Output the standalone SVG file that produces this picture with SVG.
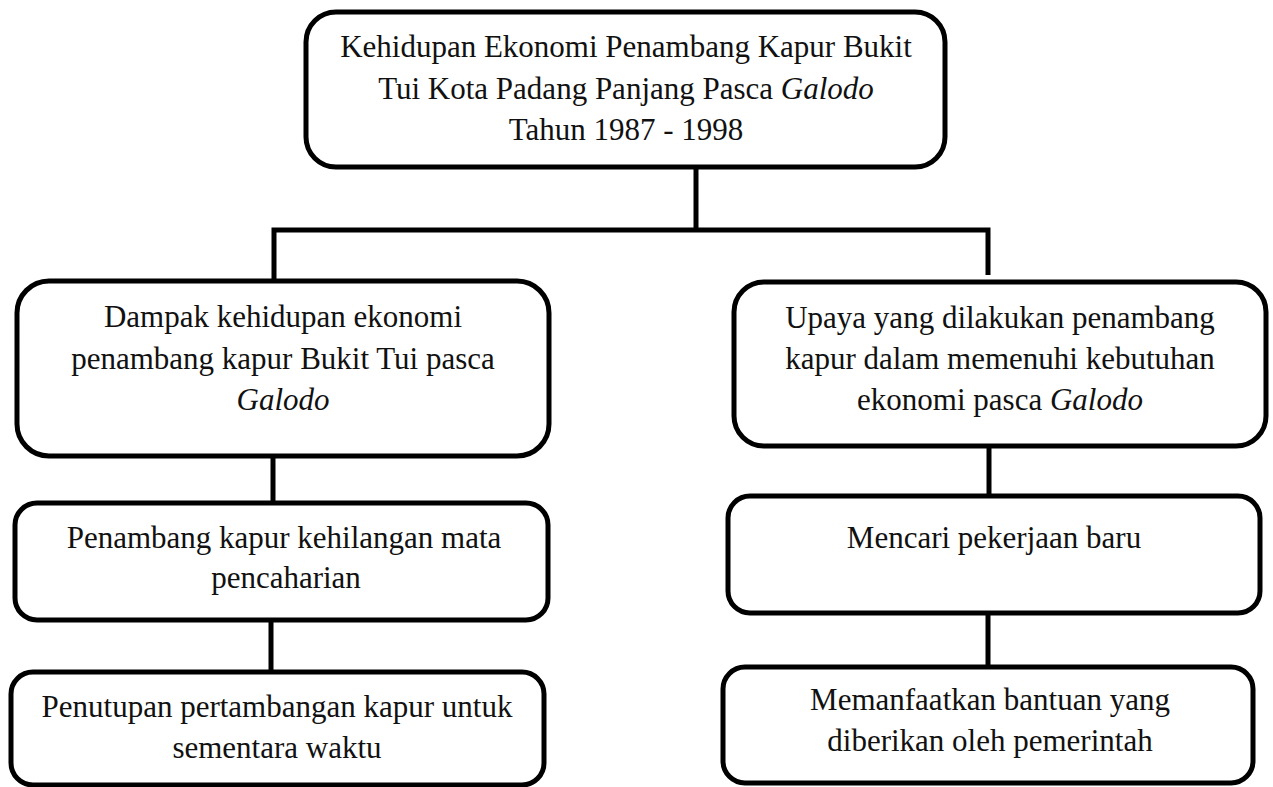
<svg xmlns="http://www.w3.org/2000/svg" width="1273" height="787" viewBox="0 0 1273 787">
<style>
.box{fill:#fff;stroke:#000;stroke-width:5}
.t{font-family:"Liberation Serif","Times New Roman",serif;font-size:31px;fill:#111;text-anchor:middle}
.i{font-style:italic}
.c{stroke:#000;stroke-width:5;fill:none;stroke-linecap:butt}
</style>
<rect width="1273" height="787" fill="#fff"/>
<g id="connectors">
<line class="c" x1="696" y1="167" x2="696" y2="228"/>
<polyline class="c" points="274,281 274,230 988,230 988,275"/>
<line class="c" x1="273" y1="456" x2="273" y2="503"/>
<line class="c" x1="271" y1="620" x2="271" y2="672"/>
<line class="c" x1="989" y1="446" x2="989" y2="496"/>
<line class="c" x1="988" y1="613" x2="988" y2="667"/>
</g>
<g id="node-top">
<rect class="box" x="306" y="12" width="639" height="155" rx="30"/>
<text class="t" x="626" y="57">Kehidupan Ekonomi Penambang Kapur Bukit</text>
<text class="t" x="626" y="99">Tui Kota Padang Panjang Pasca <tspan class="i">Galodo</tspan></text>
<text class="t" x="626" y="140">Tahun 1987 - 1998</text>
</g>
<g id="node-dampak">
<rect class="box" x="17" y="281" width="532" height="175" rx="32"/>
<text class="t" x="283" y="327">Dampak kehidupan ekonomi</text>
<text class="t" x="283" y="369">penambang kapur Bukit Tui pasca</text>
<text class="t i" x="283" y="410">Galodo</text>
</g>
<g id="node-kehilangan">
<rect class="box" x="15" y="503" width="533" height="117" rx="22"/>
<text class="t" x="284" y="548">Penambang kapur kehilangan mata</text>
<text class="t" x="286" y="588">pencaharian</text>
</g>
<g id="node-penutupan">
<rect class="box" x="11" y="672" width="533" height="113" rx="22"/>
<text class="t" x="277" y="717">Penutupan pertambangan kapur untuk</text>
<text class="t" x="277" y="758">sementara waktu</text>
</g>
<g id="node-upaya">
<rect class="box" x="734" y="282" width="532" height="164" rx="30"/>
<text class="t" x="1000" y="328">Upaya yang dilakukan penambang</text>
<text class="t" x="1000" y="369">kapur dalam memenuhi kebutuhan</text>
<text class="t" x="1000" y="410">ekonomi pasca <tspan class="i">Galodo</tspan></text>
</g>
<g id="node-mencari">
<rect class="box" x="728" y="496" width="532" height="117" rx="22"/>
<text class="t" x="994" y="548">Mencari pekerjaan baru</text>
</g>
<g id="node-bantuan">
<rect class="box" x="723" y="667" width="530" height="116" rx="22"/>
<text class="t" x="990" y="710">Memanfaatkan bantuan yang</text>
<text class="t" x="990" y="751">diberikan oleh pemerintah</text>
</g>
</svg>
